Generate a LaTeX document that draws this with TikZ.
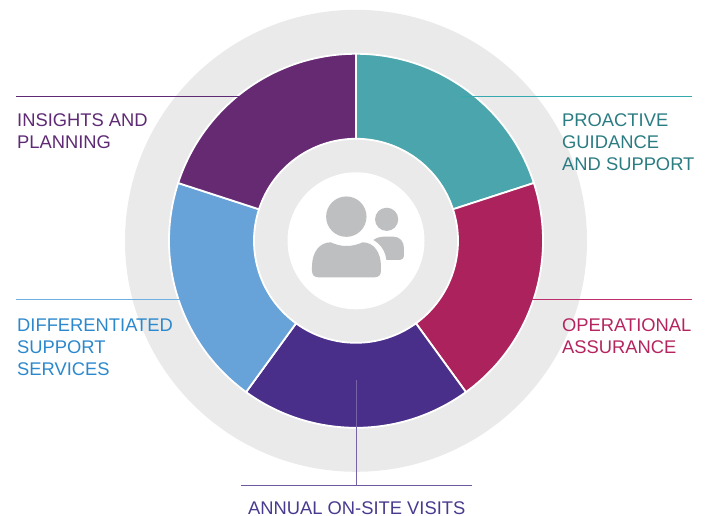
\documentclass[tikz,border=0pt]{standalone}
\usepackage{fontspec}
\setmainfont{Liberation Sans}
\definecolor{cgray}{HTML}{EAEAEA}
\definecolor{cicon}{HTML}{BEBFC1}
\definecolor{wpurple}{HTML}{662A73}
\definecolor{wteal}{HTML}{4AA6AC}
\definecolor{wred}{HTML}{AB225C}
\definecolor{windigo}{HTML}{4A2F8A}
\definecolor{wblue}{HTML}{67A3D9}
\definecolor{tteal}{HTML}{2A7C82}
\definecolor{tred}{HTML}{B5245F}
\definecolor{tblue}{HTML}{2C88CC}
\definecolor{tpurple}{HTML}{5F2A75}
\definecolor{tindigo}{HTML}{4A3A8F}
\definecolor{lteal}{HTML}{35A8B0}
\definecolor{lblue}{HTML}{6FB0E3}
\definecolor{lred}{HTML}{BC2F6C}
\tikzset{
  wedgeseg/.style={draw=white,line width=1.8pt,line join=miter},
  leader/.style={line width=1.1pt},
  labfont/.style={inner sep=0pt,font=\fontsize{18.35pt}{22pt}\selectfont},
  lab/.style={labfont,align=left,anchor=north west},
}
\newcommand{\ringwedge}[3]{%
  \path[wedgeseg,fill=#3] (#1:102pt) -- (#1:187pt) arc[start angle=#1,end angle=#2,radius=187pt] -- (#2:102pt) arc[start angle=#2,end angle=#1,radius=102pt] -- cycle;}
\begin{document}
\begin{tikzpicture}[x=1pt,y=1pt]
\useasboundingbox (0,0) rectangle (705,516);
\begin{scope}[shift={(356,275.2)}]
  \fill[cgray] (0,0) circle[radius=231pt];
  \ringwedge{90}{18}{wteal}
  \ringwedge{18}{-54}{wred}
  \ringwedge{-54}{-126}{windigo}
  \ringwedge{-126}{-198}{wblue}
  \ringwedge{162}{90}{wpurple}
  \fill[white] (0,0) circle[radius=68.5pt];
\end{scope}
% icon, in crop coordinates of the centre
\begin{scope}[shift={(270,346)},x=0.3333pt,y=-0.3333pt]
  \fill[cicon] (229,140) circle[radius=20.2pt];
  \fill[cicon] (350,148) circle[radius=11.6pt];
  \fill[cicon] (310,210) .. controls (320,203) and (330,200) .. (345,200)
    -- (370,200) .. controls (390,200) and (402,215) .. (402,235)
    -- (402,255) .. controls (402,265) and (396,270) .. (386,270)
    -- (349,270) .. controls (347,245) and (332,222) .. (310,210) -- cycle;
  \fill[cicon] (126,290) .. controls (126,245) and (150,217) .. (182,217)
    .. controls (198,224) and (212,228) .. (229,228)
    .. controls (248,228) and (262,224) .. (278,217)
    .. controls (310,217) and (333,245) .. (333,290)
    -- (333,302) .. controls (333,315) and (326,322) .. (313,322)
    -- (146,322) .. controls (133,322) and (126,315) .. (126,302) -- cycle;
\end{scope}
% leaders
\coordinate (tlA) at (16,419.5); \coordinate (tlB) at (240,419.5);
\coordinate (trA) at (462,419.5); \coordinate (trB) at (692,419.5);
\coordinate (mlA) at (16,216.5); \coordinate (mlB) at (180,216.5);
\coordinate (mrA) at (532,216.5); \coordinate (mrB) at (692,216.5);
\coordinate (bV) at (356.5,136); \coordinate (bC) at (356.5,30.5);
\coordinate (bA) at (241,30.5); \coordinate (bB) at (472,30.5);
\draw[leader,tpurple] (tlA) -- (tlB);
\draw[leader,lteal] (trA) -- (trB);
\draw[leader,lblue] (mlA) -- (mlB);
\draw[leader,lred] (mrA) -- (mrB);
\draw[leader,windigo!75!white] (bV) -- (bC);
\draw[leader,windigo!80!white] (bA) -- (bB);
% labels
\node[lab,text=tpurple] (insights) at (17,402.5) {INSIGHTS AND\\PLANNING};
\node[lab,text=tteal] (proactive) at (562,402.5) {PROACTIVE\\GUIDANCE\\AND SUPPORT};
\node[lab,text=tblue] (diff) at (17,197.5) {DIFFERENTIATED\\SUPPORT\\SERVICES};
\node[lab,text=tred] (oper) at (562,197.5) {OPERATIONAL\\ASSURANCE};
\node[labfont,anchor=base west,text=tindigo] (annual) at (248,1) {ANNUAL ON-SITE VISITS};
\end{tikzpicture}
\end{document}
